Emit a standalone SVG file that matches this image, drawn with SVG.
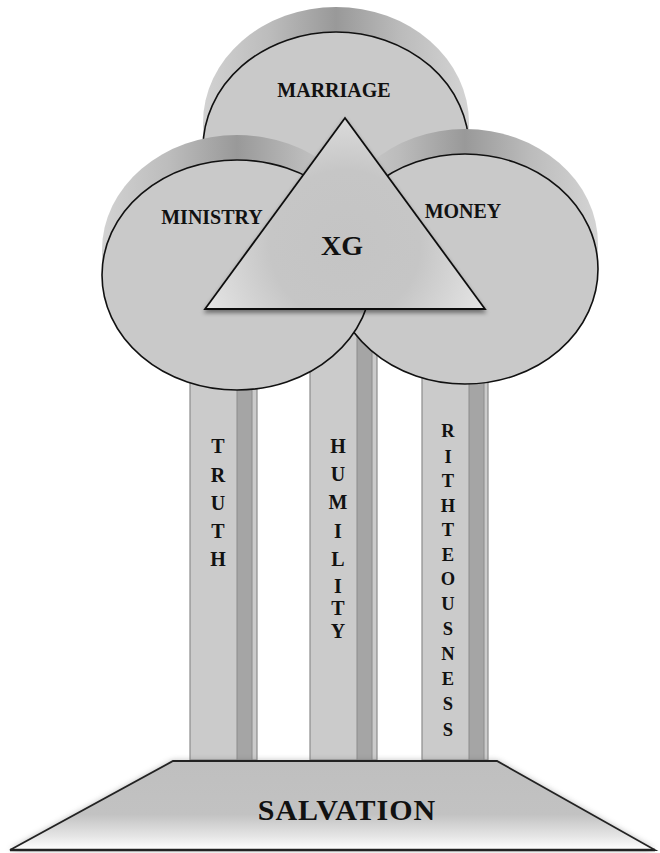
<svg xmlns="http://www.w3.org/2000/svg" width="660" height="853" viewBox="0 0 660 853">
<defs>
<style>
.face{fill:#c9c9c9;stroke:#111;stroke-width:1.6}
.side{fill:url(#sideG)}
.lbl{font-family:"Liberation Serif","Times New Roman",serif;font-weight:bold;fill:#111;text-anchor:middle}
.pil{fill:#cbcbcb;stroke:#8c8c8c;stroke-width:1.2}
.str{fill:#a5a5a5;stroke:#8c8c8c;stroke-width:1}
.plet{font-family:"Liberation Serif","Times New Roman",serif;font-weight:bold;fill:#111;text-anchor:middle;font-size:20px}
</style>
<linearGradient id="sideG" x1="0" y1="0" x2="1" y2="0">
<stop offset="0" stop-color="#d2d2d2"/>
<stop offset="0.25" stop-color="#bcbcbc"/>
<stop offset="0.5" stop-color="#999"/>
<stop offset="0.75" stop-color="#bcbcbc"/>
<stop offset="1" stop-color="#d4d4d4"/>
</linearGradient>
<radialGradient id="triG" gradientUnits="userSpaceOnUse" cx="345" cy="245" r="150">
<stop offset="0" stop-color="#c4c4c4"/>
<stop offset="0.5" stop-color="#c6c6c6"/>
<stop offset="0.8" stop-color="#d8d8d8"/>
<stop offset="1" stop-color="#e4e4e4"/>
</radialGradient>
<linearGradient id="baseG" x1="0" y1="0" x2="0" y2="1">
<stop offset="0" stop-color="#bfbfbf"/>
<stop offset="0.6" stop-color="#c2c2c2"/>
<stop offset="0.85" stop-color="#e6e6e6"/>
<stop offset="1" stop-color="#ffffff"/>
</linearGradient>
<filter id="blur" x="-10%" y="-10%" width="120%" height="130%">
<feGaussianBlur stdDeviation="3"/>
</filter>
<filter id="tshadow" x="-10%" y="-10%" width="120%" height="130%">
<feDropShadow dx="0" dy="3" stdDeviation="2" flood-color="#000" flood-opacity="0.45"/>
</filter>
</defs>

<g id="pillar-truth">
<rect class="pil" x="190" y="300" width="67" height="460"/>
<rect class="str" x="237" y="300" width="15" height="460"/>
<text class="plet" x="218" y="453">T</text>
<text class="plet" x="218" y="482">R</text>
<text class="plet" x="218" y="510">U</text>
<text class="plet" x="218" y="538">T</text>
<text class="plet" x="218" y="566">H</text>
</g>
<g id="pillar-humility">
<rect class="pil" x="310" y="300" width="67" height="460"/>
<rect class="str" x="357" y="300" width="15" height="460"/>
<text class="plet" x="338" y="453">H</text>
<text class="plet" x="338" y="481">U</text>
<text class="plet" x="338" y="509">M</text>
<text class="plet" x="338" y="538">I</text>
<text class="plet" x="338" y="566">L</text>
<text class="plet" x="338" y="593">I</text>
<text class="plet" x="338" y="615">T</text>
<text class="plet" x="338" y="638">Y</text>
</g>
<g id="pillar-righteousness" style="font-size:18.5px">
<rect class="pil" x="422" y="300" width="66" height="460"/>
<rect class="str" x="469" y="300" width="15" height="460"/>
<g class="plet" style="font-size:18.5px">
<text x="448" y="437">R</text>
<text x="448" y="463">I</text>
<text x="448" y="487">T</text>
<text x="448" y="512">H</text>
<text x="448" y="536">T</text>
<text x="448" y="561">E</text>
<text x="448" y="585">O</text>
<text x="448" y="610">U</text>
<text x="448" y="635">S</text>
<text x="448" y="660">N</text>
<text x="448" y="685">E</text>
<text x="448" y="710">S</text>
<text x="448" y="736">S</text>
</g>
</g>

<g id="marriage">
<path class="side" d="M203,123 A133,116 0 0 1 469,123 L469,148 A133,116 0 0 1 203,148 Z"/>
<ellipse class="face" cx="336" cy="148" rx="133" ry="116"/>
<text class="lbl" x="334" y="97" font-size="20">MARRIAGE</text>
</g>

<g id="money">
<path class="side" d="M332,244 A133,115 0 0 1 598,244 L598,269 A133,115 0 0 1 332,269 Z"/>
<ellipse class="face" cx="465" cy="269" rx="133" ry="115"/>
<text class="lbl" x="463" y="218" font-size="20">MONEY</text>
</g>

<g id="ministry">
<path class="side" d="M102,250 A135,115 0 0 1 372,250 L372,275 A135,115 0 0 1 102,275 Z"/>
<ellipse class="face" cx="237" cy="275" rx="135" ry="115"/>
<text class="lbl" x="212" y="224" font-size="20">MINISTRY</text>
</g>

<g id="xg">
<polygon points="345,118 205,309 485,309" fill="url(#triG)" stroke="#111" stroke-width="1.8" stroke-linejoin="miter" filter="url(#tshadow)"/>
<text class="lbl" x="342" y="255" font-size="28">XG</text>
</g>

<g id="salvation">
<path d="M173,761 L497,761 L655,850 L10,850 Z" fill="#666" opacity="0.55" filter="url(#blur)"/>
<path d="M173,761 L497,761 L655,850 L10,850 Z" fill="url(#baseG)" stroke="#222" stroke-width="1.8" stroke-linejoin="miter"/>
<line x1="10" y1="850" x2="655" y2="850" stroke="#222" stroke-width="2.5"/>
<text class="lbl" x="347" y="820" font-size="30" letter-spacing="1">SALVATION</text>
</g>
<g id="connectors"/>
</svg>
